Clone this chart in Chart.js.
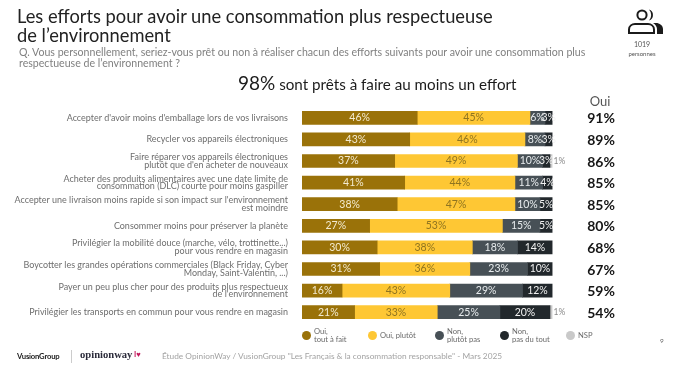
<!DOCTYPE html>
<html lang="fr">
<head>
<meta charset="utf-8">
<title>Consommation respectueuse</title>
<script src="https://cdn.jsdelivr.net/npm/chart.js@4"></script>
<style>
    html, body { margin: 0; padding: 0; background: #fff; }
    body { position: relative; width: 680px; height: 365px; overflow: hidden; font-family: Lato, sans-serif; }
    canvas { position: absolute; left: 0; top: 0; }
    .t { position: absolute; white-space: nowrap; }
    #title { left: 17px; top: 7px; font-size: 18.3px; line-height: 18.5px; color: #222; }
    #question { left: 19px; top: 47px; font-size: 10.6px; line-height: 11px; color: #808080; }
    #headline { left: 238px; top: 72px; font-size: 15.2px; line-height: 22px; color: #1c1c1c; }
    #headline b { font-weight: 400; font-size: 19px; }
    #oui { left: 570px; width: 60px; top: 93px; text-align: center; font-size: 13px; color: #555; }
    #n { left: 622px; width: 40px; top: 40px; text-align: center; font-size: 7px; line-height: 9px; color: #555; }
    #n small { font-size: 6px; }
    #page { left: 660px; top: 337px; font-size: 6.5px; color: #666; }
    #source { left: 162px; top: 351px; font-size: 8.3px; color: #a3a3a3; }
    #vusion { left: 17px; top: 351px; font-size: 7.7px; font-weight: 700; color: #222; letter-spacing: -0.2px; }
    #opinion { left: 80px; top: 349px; font-family: "Liberation Serif", serif; font-size: 10.6px; font-weight: 700; color: #2b2b3a; }
    #sep { position: absolute; left: 71px; top: 350px; width: 1px; height: 13px; background: #ccc; }
    #love { left: 134px; top: 350px; font-size: 7.5px; font-weight: 700; color: #c2185b; }
    .dot { position: absolute; width: 9px; height: 9px; border-radius: 50%; }
    .leg { position: absolute; white-space: pre; font-size: 7.6px; line-height: 8px; color: #6a6a6a; }
    #icon { position: absolute; left: 627px; top: 8px; }
</style>
</head>
<body>
<canvas id="myChart" width="680" height="365"></canvas>
<div class="t" id="title">Les efforts pour avoir une consommation plus respectueuse<br>de l’environnement</div>
<div class="t" id="question">Q. Vous personnellement, seriez-vous prêt ou non à réaliser chacun des efforts suivants pour avoir une consommation plus<br>respectueuse de l’environnement ?</div>
<div class="t" id="headline"><b>98%</b> sont prêts à faire au moins un effort</div>
<div class="t" id="oui">Oui</div>
<svg id="icon" width="38" height="28" viewBox="0 0 38 28">
    <circle cx="15" cy="7" r="4.6" fill="none" stroke="#1b1b1b" stroke-width="2"></circle>
    <path d="M22 1.5a5.8 5.8 0 0 1 0 11a8 8 0 0 0 0-11z" fill="#1b1b1b"></path>
    <path d="M2 25v-3.5c0-3.5 3-5.5 6-5.5h13c3 0 6 2 6 5.5v3.500z" fill="none" stroke="#1b1b1b" stroke-width="2"></path>
    <path d="M26 15h3c3.500 0 7 2.500 7 6v5h-6v-5c0-2.500-2-5-4-6z" fill="#1b1b1b"></path>
</svg>
<div class="t" id="n">1019<br><small>personnes</small></div>
<div class="t" id="page">9</div>
<div class="t" id="vusion">VusionGroup</div>
<div id="sep"></div>
<div class="t" id="opinion">opinionway</div>
<div class="t" id="love">I♥</div>
<div class="t" id="source">Étude OpinionWay / VusionGroup "Les Français &amp; la consommation responsable" - Mars 2025</div>
<script>
const categories = [
    ["Accepter d'avoir moins d'emballage lors de vos livraisons"],
    ["Recycler vos appareils électroniques"],
    ["Faire réparer vos appareils électroniques", "plutôt que d'en acheter de nouveaux"],
    ["Acheter des produits alimentaires avec une date limite de", "consommation (DLC) courte pour moins gaspiller"],
    ["Accepter une livraison moins rapide si son impact sur l'environnement", "est moindre"],
    ["Consommer moins pour préserver la planète"],
    ["Privilégier la mobilité douce (marche, vélo, trottinette...)", "pour vous rendre en magasin"],
    ["Boycotter les grandes opérations commerciales (Black Friday, Cyber", "Monday, Saint-Valentin, ...)"],
    ["Payer un peu plus cher pour des produits plus respectueux", "de l'environnement"],
    ["Privilégier les transports en commun pour vous rendre en magasin"]
];
const ouiToutAFait = [46, 43, 37, 41, 38, 27, 30, 31, 16, 21];
const ouiPlutot = [45, 46, 49, 44, 47, 53, 38, 36, 43, 33];
const nonPlutotPas = [6, 8, 10, 11, 10, 15, 18, 23, 29, 25];
const nonPasDuTout = [3, 3, 3, 4, 5, 5, 14, 10, 12, 20];
const nsp = [0, 0, 1, 0, 0, 0, 0, 0, 0, 1];
const totalOui = [91, 89, 86, 85, 85, 80, 68, 67, 59, 54];

const seriesNames = ["Oui,\ntout à fait", "Oui, plutôt", "Non,\nplutôt pas", "Non,\npas du tout", "NSP"];
const seriesColors = ["#9a7209", "#fec734", "#475056", "#22282c", "#c9c9c9"];
const labelColors = ["#f3ead0", "#8f7420", "#e8ecee", "#f2f2f2", "#8a8a8a"];
const legendX = [302, 368, 435, 500, 566];

// legend is plain html, two line labels don't sit well in the chart one
seriesNames.forEach(function (name, i) {
    const dot = document.createElement('div');
    dot.className = 'dot';
    dot.style.left = legendX[i] + 'px';
    dot.style.top = '331px';
    dot.style.background = seriesColors[i];
    document.body.appendChild(dot);

    const leg = document.createElement('div');
    leg.className = 'leg';
    leg.textContent = name;
    leg.style.left = (legendX[i] + 12) + 'px';
    leg.style.top = name.indexOf('\n') > -1 ? '327px' : '331px';
    document.body.appendChild(leg);
});

// values inside the bars + the "Oui" column on the right
const barValues = {
    id: 'barValues',
    afterDatasetsDraw(chart) {
        const ctx = chart.ctx;
        ctx.save();
        ctx.textBaseline = 'middle';
        chart.data.datasets.forEach(function (ds, d) {
            chart.getDatasetMeta(d).data.forEach(function (bar, i) {
                const v = ds.data[i];
                if (!v) return;
                ctx.font = '10.5px Lato';
                ctx.fillStyle = labelColors[d];
                if (d === 4) {
                    ctx.textAlign = 'left';
                    ctx.font = '8.5px Lato';
                    ctx.fillText(v + '%', bar.x + 1, bar.y);
                } else {
                    ctx.textAlign = 'center';
                    ctx.fillText(v + '%', (bar.x + bar.base) / 2, bar.y);
                }
            });
        });
        ctx.textAlign = 'center';
        ctx.font = '700 14px Lato';
        ctx.fillStyle = '#161616';
        totalOui.forEach(function (v, i) {
            ctx.fillText(v + '%', 601, chart.scales.y.getPixelForValue(i) + 1);
        });
        ctx.restore();
    }
};

const ctx = document.getElementById('myChart');

const myChart = new Chart(ctx, {
    type: 'bar',
    data: {
        labels: categories,
        datasets: [ouiToutAFait, ouiPlutot, nonPlutotPas, nonPasDuTout, nsp].map(function (values, i) {
            return {
                label: seriesNames[i],
                data: values,
                backgroundColor: seriesColors[i],
                barThickness: 13,
                stack: 'a'
            };
        })
    },
    options: {
        indexAxis: 'y',
        responsive: false,
        animation: false,
        layout: { padding: { top: 107, bottom: 42, left: 0, right: 127.5 } },
        plugins: {
            legend: { display: false },
            tooltip: { enabled: false }
        },
        scales: {
            x: {
                stacked: true,
                display: false,
                min: 0,
                max: 100
            },
            y: {
                stacked: true,
                afterFit(scale) { scale.width = 302; },
                grid: { display: false },
                border: { display: false },
                ticks: {
                    autoSkip: false,
                    padding: 6,
                    color: '#6e6e6e',
                    font: { family: 'Lato', size: 8.98, lineHeight: 0.86 }
                }
            }
        }
    },
    plugins: [barValues]
});
</script>
</body>
</html>
